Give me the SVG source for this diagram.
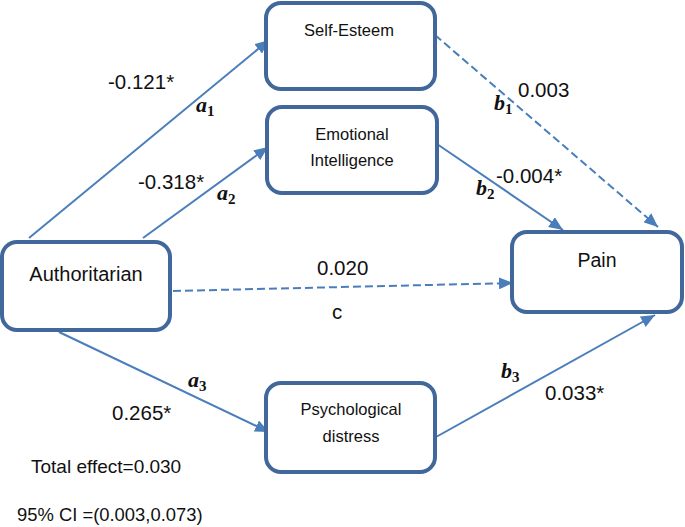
<svg xmlns="http://www.w3.org/2000/svg" width="685" height="527" viewBox="0 0 685 527">
<defs>
<style>
.box{fill:#fff;stroke:#41679b;stroke-width:4}
.lbl{font-family:"Liberation Sans",Arial,sans-serif;fill:#111;text-anchor:middle;font-size:16.5px}
.num{font-family:"Liberation Sans",Arial,sans-serif;fill:#111;font-size:20.5px}
.note{font-family:"Liberation Sans",Arial,sans-serif;fill:#111;font-size:19px}
.m{font-family:"Liberation Serif","Times New Roman",serif;font-style:italic;font-weight:bold;fill:#111;font-size:22px}
.sub{font-size:15px;font-style:normal}
.ln{stroke:#4a7ebb;stroke-width:2;fill:none;marker-end:url(#ah)}
.dash{stroke-dasharray:8 4}
</style>
<marker id="ah" markerUnits="userSpaceOnUse" markerWidth="16" markerHeight="12" refX="14" refY="6" orient="auto">
<path d="M0,0 L14,6 L0,12 Z" fill="#4a7ebb"/>
</marker>
</defs>
<g id="connectors">
<line class="ln" x1="29" y1="238" x2="269" y2="40"/>
<line class="ln" x1="143" y1="238" x2="268" y2="147"/>
<line class="ln dash" x1="435" y1="35" x2="658" y2="227"/>
<line class="ln" x1="437" y1="144" x2="563" y2="230"/>
<line class="ln dash" x1="173" y1="291" x2="513" y2="283"/>
<line class="ln" x1="59" y1="332" x2="269" y2="432"/>
<line class="ln" x1="436" y1="437" x2="655" y2="315"/>
</g>
<g id="self-esteem">
<rect class="box" x="266" y="3" width="169" height="86" rx="15"/>
<text class="lbl" x="349" y="36">Self-Esteem</text>
</g>
<g id="emotional-intelligence">
<rect class="box" x="267" y="107" width="170" height="86" rx="15"/>
<text class="lbl" x="352" y="140">Emotional</text>
<text class="lbl" x="352" y="166">Intelligence</text>
</g>
<g id="authoritarian">
<rect class="box" x="2" y="242" width="168" height="88" rx="15"/>
<text class="lbl" x="86" y="281" style="font-size:20px">Authoritarian</text>
</g>
<g id="pain">
<rect class="box" x="512" y="232" width="170" height="80" rx="15"/>
<text class="lbl" x="597" y="267" style="font-size:19.5px">Pain</text>
</g>
<g id="psychological-distress">
<rect class="box" x="266" y="383" width="169" height="89" rx="15"/>
<text class="lbl" x="351" y="415">Psychological</text>
<text class="lbl" x="351" y="442">distress</text>
</g>
<g id="labels">
<text class="num" x="108" y="89">-0.121*</text>
<text class="m" x="196" y="112">a<tspan class="sub" dy="4">1</tspan></text>
<text class="num" x="138" y="189">-0.318*</text>
<text class="m" x="217" y="200">a<tspan class="sub" dy="4">2</tspan></text>
<text class="m" x="494" y="110">b<tspan class="sub" dy="4">1</tspan></text>
<text class="num" x="518" y="97">0.003</text>
<text class="num" x="496" y="183">-0.004*</text>
<text class="m" x="476" y="195">b<tspan class="sub" dy="4">2</tspan></text>
<text class="num" x="317" y="275">0.020</text>
<text class="num" x="332" y="319">c</text>
<text class="m" x="188" y="387">a<tspan class="sub" dy="4">3</tspan></text>
<text class="num" x="112" y="420">0.265*</text>
<text class="m" x="501" y="378">b<tspan class="sub" dy="4">3</tspan></text>
<text class="num" x="545" y="400">0.033*</text>
<text class="note" x="31" y="473">Total effect=0.030</text>
<text class="note" x="17" y="521" style="font-size:18.4px">95% CI =(0.003,0.073)</text>
</g>
</svg>
